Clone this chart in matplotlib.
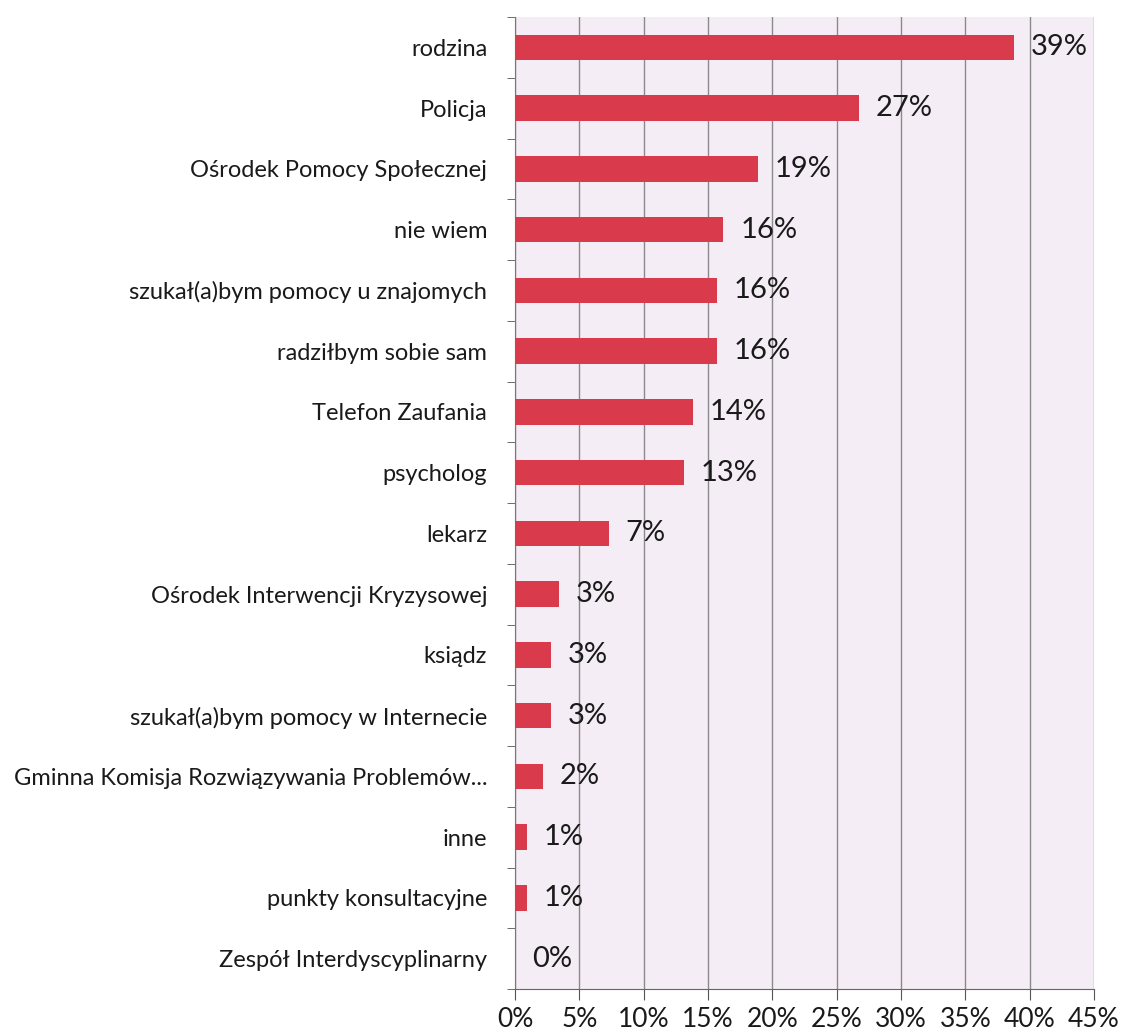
import matplotlib.pyplot as plt
import numpy as np

categories = ["rodzina", "Policja", "Ośrodek Pomocy Społecznej", "nie wiem",
              "szukał(a)bym pomocy u znajomych", "radziłbym sobie sam",
              "Telefon Zaufania", "psycholog", "lekarz",
              "Ośrodek Interwencji Kryzysowej", "ksiądz",
              "szukał(a)bym pomocy w Internecie",
              "Gminna Komisja Rozwiązywania Problemów...", "inne",
              "punkty konsultacyjne", "Zespół Interdyscyplinarny"]
values = [38.8, 26.7, 18.9, 16.2, 15.7, 15.7, 13.8, 13.1, 7.3, 3.4, 2.8, 2.8,
          2.2, 0.9, 0.9, 0.0]
xticks = [0, 5, 10, 15, 20, 25, 30, 35, 40, 45]

plt.rcParams['font.family'] = ['Lato', 'DejaVu Sans']

fig = plt.figure(figsize=(11.25, 10.34), dpi=100)
ax = fig.add_axes([0.4578, 0.0435, 0.5147, 0.940])
ax.set_facecolor('#f5edf5')

y = np.arange(len(categories))
ax.barh(y, values, height=0.42, color='#d93a4c', zorder=3)
for yi, v in zip(y, values):
    ax.text(v + 1.3, yi, "%d%%" % round(v), va='center', ha='left',
            fontsize=21, color='#1a1a1a', zorder=4)

ax.set_ylim(len(categories) - 0.5, -0.5)
ax.set_xlim(0, 45)
ax.set_xticks(xticks)
ax.set_xticklabels(["%d%%" % t for t in xticks], fontsize=19, color='#1a1a1a')
ax.set_yticks(y)
ax.set_yticklabels(categories, fontsize=17, color='#1a1a1a')
ax.set_yticks(np.arange(len(categories) + 1) - 0.5, minor=True)
ax.tick_params(axis='y', which='major', length=0, pad=20)
ax.tick_params(axis='y', which='minor', length=6, color='#555555', direction='out')
ax.tick_params(axis='x', length=8, color='#555555', pad=5, direction='out')

ax.grid(axis='x', color='#8a8a8a', linewidth=1.0, zorder=1)
for s in ['top', 'right']:
    ax.spines[s].set_visible(False)
ax.spines['left'].set_color('#777777')
ax.spines['bottom'].set_color('#666666')

fig.savefig('out.png', dpi=100, facecolor='white')
